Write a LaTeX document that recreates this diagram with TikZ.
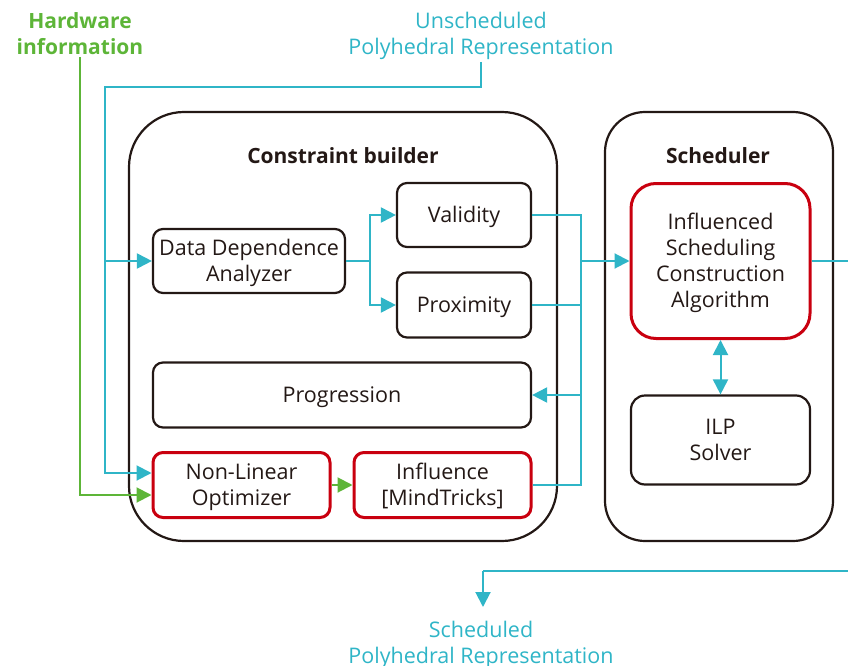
\documentclass[tikz,border=0pt]{standalone}
\usepackage{fontspec}
\setmainfont{Open Sans}
\usetikzlibrary{arrows.meta}
\definecolor{cyanline}{HTML}{2FB5C7}
\definecolor{greenline}{HTML}{5DB538}
\definecolor{redframe}{HTML}{C9000F}
\definecolor{inkblack}{HTML}{231815}

% stacked, centred lines whose caps sit on the middle of the box
\newcommand\cellstack[1]{\raisebox{-2.5pt}[\height][\depth]{\begin{tabular}{@{}c@{}}#1\end{tabular}}}

\begin{document}
\begin{tikzpicture}[x=1pt,y=-1pt,
  box/.style={draw=inkblack, line width=2.2pt, rounded corners=10pt,
    inner sep=0pt, text=inkblack, font=\fontsize{21.5}{26}\selectfont},
  keybox/.style={box, draw=redframe, line width=3pt},
  group/.style={draw=inkblack, line width=2.2pt, inner sep=0pt},
  title/.style={font=\bfseries\fontsize{21}{26}\selectfont, text=inkblack},
  flow/.style={draw=cyanline, line width=2pt},
  tip/.style={-{Triangle[length=15pt,width=15pt]}},
  flowarrow/.style={flow, tip},
  hwarrow/.style={draw=greenline, line width=2pt, tip},
  cyantext/.style={text=cyanline, align=center, inner sep=2pt, font=\fontsize{21.5}{26}\selectfont},
  greentext/.style={text=greenline, align=center, inner sep=2pt, font=\bfseries\fontsize{21}{26}\selectfont}
]
\useasboundingbox (0,0) rectangle (848,666);

% outer groups
\node[group, rounded corners=55pt, minimum width=428pt, minimum height=429pt] (cb) at (343,326.5) {};
\node[group, rounded corners=40pt, minimum width=228pt, minimum height=429pt] (sch) at (719,326.5) {};
\node[title] (cbtitle) at (343,155.5) {Constraint builder};
\node[title] (schtitle) at (718,155.5) {Scheduler};

% inputs and output labels
\node[greentext] (hw) at (80,34) {Hardware\\information};
\node[cyantext] (unsched) at (481,36) {Unscheduled\\Polyhedral Representation};
\node[cyantext] (sched) at (481,644.5) {Scheduled\\Polyhedral Representation};

% constraint builder parts
\node[box, minimum width=134pt, minimum height=64pt] (valid) at (464,215) {\cellstack{Validity}};
\node[box, minimum width=192pt, minimum height=64pt] (dda) at (249,261) {\cellstack{Data Dependence\\Analyzer}};
\node[box, minimum width=134pt, minimum height=65pt] (prox) at (464,305) {\cellstack{Proximity}};
\node[box, minimum width=378pt, minimum height=65pt] (prog) at (342,395) {\cellstack{Progression}};
\node[keybox, minimum width=177pt, minimum height=65pt] (nlo) at (241.5,485) {\cellstack{Non-Linear\\Optimizer}};
\node[keybox, minimum width=177pt, minimum height=65pt] (infl) at (442.5,485) {\cellstack{Influence\\{[MindTricks]}}};

% scheduler parts
\node[keybox, rounded corners=25pt, minimum width=179pt, minimum height=155pt] (isca) at (720.5,261)
  {\cellstack{Influenced\\Scheduling\\Construction\\Algorithm}};
\node[box, rounded corners=14pt, minimum width=179pt, minimum height=89pt] (ilp) at (720.5,440) {\cellstack{ILP\\Solver}};

% routing points
\coordinate (feedtop) at (105,87);
\coordinate (split) at (370,261);
\coordinate (merge) at (581,261);
\coordinate (outright) at (870,261);
\coordinate (outdown) at (870,571);
\coordinate (outbend) at (483,571);
\coordinate (outend) at (483,607);

% unscheduled input
\draw[flowarrow] (unsched.south) |- (feedtop) |- ([yshift=12pt]nlo.west);
\draw[flowarrow] (feedtop |- dda.west) -- (dda.west);

% hardware input
\draw[hwarrow] (hw.south) |- ([yshift=-10pt]nlo.west);
\draw[hwarrow] (nlo.east) -- (infl.west);

% dependence split
\draw[flow] (dda.east) -- (split);
\draw[flowarrow] (split) |- (valid.west);
\draw[flowarrow] (split) |- (prox.west);

% constraint collection
\draw[flow] (valid.east) -| (merge);
\draw[flow] (prox.east) -| (merge);
\draw[flow] (infl.east) -| (merge);
\draw[flowarrow] (merge) -- (isca.west);
\draw[flowarrow] (merge |- prog.east) -- (prog.east);

% solver exchange
\draw[flow, {Triangle[length=15pt,width=15pt]}-{Triangle[length=15pt,width=15pt]}] (isca.south) -- (ilp.north);

% scheduled output
\draw[flow] (isca.east) -- (outright) -- (outdown) -- (outbend);
\draw[flowarrow] (outbend) -- (outend);
\end{tikzpicture}
\end{document}
